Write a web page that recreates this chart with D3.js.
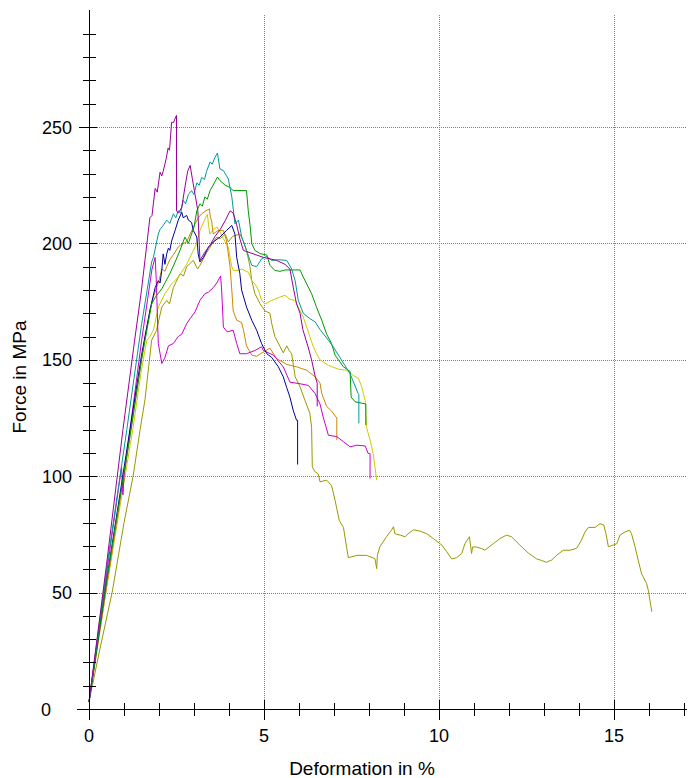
<!DOCTYPE html>
<html>
<head>
<meta charset="utf-8">
<script src="https://cdn.jsdelivr.net/npm/d3@7"></script>
<style>
  body { margin: 0; background: #fff; }
  svg text { font-family: "Liberation Sans", Arial, sans-serif; fill: #000; }
</style>
</head>
<body>
<div id="chart"></div>
<script>
// deformation (%) / force (MPa) pairs
const purple = [[0,3],[0.5,62],[0.97,120],[1.3,158],[1.5,180],[1.6,193],[1.74,211],[1.8,212],[1.89,223.6],[1.95,222],[2.03,230.6],[2.08,229],[2.12,231],[2.2,236],[2.26,241],[2.3,240],[2.36,252],[2.42,252],[2.48,254.5],[2.5,255],[2.5,214],[2.55,213],[2.65,215.5],[2.75,225],[2.82,231],[2.89,233.5],[2.95,228],[3.03,221],[3.11,214],[3.17,192.7],[3.3,196],[3.45,199],[3.6,203],[3.75,206],[3.9,210],[4.03,214],[4.12,213],[4.22,208],[4.31,202],[4.41,197],[4.6,196],[4.98,194],[5.36,192.7],[5.6,191],[5.74,189],[5.85,180],[5.93,174],[6.03,170],[6.11,163],[6.26,155.5],[6.36,150],[6.46,143],[6.52,140],[6.52,130]];
const teal = [[0,3],[0.5,60],[1.08,120],[1.5,165],[1.79,192],[1.84,194],[1.98,204],[2.03,206],[2.12,207.7],[2.22,210],[2.31,208.6],[2.41,212.7],[2.48,211],[2.55,214],[2.62,213],[2.69,218.5],[2.76,217],[2.84,221],[2.93,222.7],[3.0,221],[3.08,226],[3.15,225],[3.22,228.3],[3.3,227.5],[3.36,231],[3.46,235],[3.52,234],[3.6,237],[3.67,238.8],[3.74,232],[3.84,231.3],[3.93,229],[3.98,227.7],[4.08,220],[4.17,208.4],[4.27,210],[4.36,203],[4.5,197],[4.65,190.6],[4.79,190],[4.93,193.4],[5.08,194.4],[5.22,192.7],[5.41,193],[5.65,192.7],[5.79,189],[5.89,184],[5.98,175.5],[6.12,170],[6.31,167.7],[6.46,166.3],[6.6,163],[6.84,158.4],[6.98,155.5],[7.17,151],[7.46,144],[7.69,135.5],[7.71,135],[7.71,122.7]];
const green = [[0,3],[0.5,55],[1.2,120],[1.5,150],[1.79,174],[1.9,177],[2.08,180.5],[2.17,183],[2.31,187],[2.46,192],[2.6,197],[2.74,202.7],[2.84,200],[2.93,204],[3.0,207],[3.08,214],[3.17,217],[3.24,216],[3.31,220],[3.38,219],[3.46,222.7],[3.6,226.5],[3.67,228.5],[3.74,227],[3.89,225],[4.03,224],[4.12,222.7],[4.5,222.7],[4.55,214],[4.6,208],[4.65,200],[4.74,197],[4.89,195.6],[5.08,195],[5.17,190.6],[5.31,188.4],[5.46,188],[5.6,188.6],[6.03,188.6],[6.12,185.6],[6.22,182.6],[6.36,178.4],[6.5,172.6],[6.65,167],[6.79,161],[6.93,157],[7.03,152],[7.27,147],[7.46,145],[7.49,134],[7.6,132],[7.91,131],[7.91,122]];
const navy = [[0,3],[0.5,55],[1.17,120],[1.5,152],[1.75,172],[1.89,181],[1.98,184],[2.03,183],[2.08,188.4],[2.12,195.5],[2.17,191],[2.22,195.5],[2.27,198],[2.31,197],[2.36,201],[2.46,205.6],[2.55,210],[2.65,213.4],[2.69,211],[2.79,212],[2.84,210],[2.93,209],[2.98,205.6],[3.08,202.7],[3.12,195.5],[3.17,192],[3.27,194],[3.41,198.4],[3.55,200.6],[3.74,202.7],[3.93,205.6],[4.08,207.7],[4.17,204],[4.22,194],[4.31,187],[4.36,180],[4.5,172.7],[4.65,167],[4.79,162.7],[4.93,157],[5.08,152.6],[5.22,151],[5.41,147],[5.55,142.7],[5.65,138],[5.74,134],[5.84,128],[5.93,124],[5.96,124],[5.96,105]];
const orange = [[0,3],[0.5,52],[1.2,120],[1.6,160],[1.74,171],[1.84,177],[2.0,184],[2.08,189],[2.17,188],[2.22,190],[2.31,193],[2.45,196],[2.55,198.5],[2.69,200],[2.79,200.6],[2.89,204],[3.03,208.4],[3.12,211],[3.22,212.7],[3.34,214],[3.44,214.8],[3.47,211],[3.5,210],[3.55,204],[3.69,205.6],[3.84,205.6],[3.93,201],[4.03,190],[4.08,180],[4.12,171],[4.22,167],[4.36,166],[4.41,163],[4.5,156],[4.65,152],[4.79,151.5],[4.89,152.5],[5.17,155],[5.36,150.5],[5.65,148],[5.93,147],[6.22,145.5],[6.46,142.7],[6.6,140],[6.65,135.5],[6.79,130],[6.93,128],[7.08,125],[7.08,115.5]];
const yellow = [[0,3],[0.5,52],[1.25,120],[1.5,146],[1.65,158.4],[1.74,160],[1.84,162.7],[1.98,172.7],[2.17,178.4],[2.36,182.6],[2.55,185.5],[2.79,191],[2.95,196],[3.08,200],[3.17,205.6],[3.3,210],[3.38,212.5],[3.45,204],[3.55,206],[3.65,207],[3.74,205],[3.84,202],[3.98,198.4],[4.03,194],[4.08,190],[4.12,188.4],[4.27,188.4],[4.36,189],[4.55,187.6],[4.65,184],[4.74,182.6],[4.84,180],[4.93,175.5],[5.03,174],[5.22,175.5],[5.46,177],[5.6,177.7],[5.74,176],[5.89,175.5],[6.03,171],[6.12,168.4],[6.22,164],[6.31,160],[6.41,155.6],[6.5,152.6],[6.6,150],[6.84,147.6],[7.12,146],[7.36,145.5],[7.55,143.3],[7.7,142],[7.79,138.4],[7.89,132.6],[7.93,121],[8.03,115.5],[8.12,109.7],[8.17,104],[8.22,98.3]];
const olive = [[0,3],[0.3,25],[0.66,50],[1.0,80],[1.26,100],[1.46,120],[1.6,133],[1.79,158.4],[1.93,162.7],[2.08,172.7],[2.22,175.5],[2.3,174],[2.41,181],[2.6,187],[2.7,186],[2.79,190],[2.98,192.7],[3.1,189],[3.17,190.6],[3.36,196],[3.55,200.6],[3.65,202.7],[3.75,202],[3.89,204],[3.98,200.6],[4.1,203],[4.31,204],[4.41,201],[4.5,197],[4.6,190],[4.65,184],[4.74,178.4],[4.89,174],[5.03,171],[5.17,170],[5.22,165.6],[5.31,160],[5.46,155.6],[5.55,153],[5.65,156],[5.72,154],[5.79,152.6],[5.89,142.7],[6.03,138.4],[6.17,132.6],[6.31,127],[6.36,121],[6.38,104],[6.45,102],[6.55,101],[6.6,97.6],[6.79,98.3],[6.93,96],[7.03,89.7],[7.15,81],[7.27,78],[7.36,69.5],[7.41,65],[7.65,66],[7.93,66],[8.17,64.6],[8.22,60.3],[8.24,66],[8.31,69.7],[8.5,74],[8.64,76.8],[8.7,78.3],[8.74,75.3],[8.89,74.7],[9.03,74],[9.12,75.3],[9.27,77],[9.46,76.4],[9.65,75.3],[9.84,73.2],[10.08,70.4],[10.22,67.6],[10.36,64.5],[10.5,65],[10.65,66.8],[10.74,71],[10.87,74],[10.9,70.4],[10.93,66.8],[10.96,69.6],[11.07,69.6],[11.22,68.9],[11.31,68.2],[11.55,71],[11.74,73.2],[11.93,74.7],[12.07,74],[12.31,70.4],[12.55,67],[12.79,64.5],[12.93,63.8],[13.07,63],[13.22,64],[13.36,66],[13.55,68.2],[13.74,68.2],[13.93,69],[14.07,72.5],[14.17,76],[14.27,78],[14.46,78],[14.6,79.6],[14.71,79],[14.77,75.3],[14.84,69.7],[14.98,70.4],[15.08,71],[15.17,74.7],[15.31,76],[15.44,76.8],[15.5,75.3],[15.6,69.7],[15.69,64],[15.79,58],[15.93,54],[15.98,51],[16.08,41.8]];
const magenta = [[0,3],[0.5,58],[0.93,104],[0.97,92],[1.0,100],[1.5,158],[1.8,189],[1.89,194],[1.92,185],[1.98,157],[2.08,148.4],[2.17,151],[2.27,156],[2.41,157],[2.55,160],[2.65,161],[2.79,165.5],[2.89,167.7],[3.03,170.6],[3.17,175.5],[3.31,178.4],[3.41,179],[3.55,181],[3.65,183],[3.76,186],[3.79,180],[3.84,164],[3.95,162],[4.12,162.7],[4.22,157],[4.31,152.6],[4.5,152.6],[4.74,154],[4.93,155.6],[4.98,154],[5.27,152],[5.55,147],[5.74,140.4],[6.03,139.7],[6.27,139],[6.46,135.5],[6.6,131],[6.69,125.5],[6.84,117.6],[7.08,117],[7.27,114.8],[7.46,112.6],[7.65,113.3],[7.89,113],[7.98,109.7],[8.03,109.7],[8.03,99]];

const series = [olive, yellow, orange, magenta, navy, green, teal, purple];
const colors = ["#999900", "#cccc00", "#cc8800", "#cc00cc", "#000099", "#009900", "#009999", "#990099"];

const xLabels = [0, 5, 10, 15];
const yLabels = [0, 50, 100, 150, 200, 250];
const xMinor = [0,1,2,3,4,5,6,7,8,9,10,11,12,13,14,15,16,17];
const yMinor = [0,10,20,30,40,50,60,70,80,90,100,110,120,130,140,150,160,170,180,190,200,210,220,230,240,250,260,270,280,290];

const width = 688, height = 778;

const svg = d3.select("#chart").append("svg")
    .attr("width", width)
    .attr("height", height);

const x = d3.scaleLinear().domain([0, 15]).range([89, 614]);
const y = d3.scaleLinear().domain([0, 250]).range([709, 127]);
const xEnd = 687;
const yTop = y(298);

// dotted grid at the labelled values
const grid = svg.append("g")
    .attr("stroke", "#808080")
    .attr("stroke-dasharray", "1,1")
    .attr("shape-rendering", "crispEdges");
grid.selectAll(".gy")
    .data(yLabels.filter(d => d > 0))
    .enter().append("line")
    .attr("x1", x(0)).attr("x2", xEnd)
    .attr("y1", d => Math.round(y(d)) + 0.5)
    .attr("y2", d => Math.round(y(d)) + 0.5);
grid.selectAll(".gx")
    .data(xLabels.filter(d => d > 0))
    .enter().append("line")
    .attr("y1", yTop).attr("y2", y(0))
    .attr("x1", d => Math.round(x(d)) + 0.5)
    .attr("x2", d => Math.round(x(d)) + 0.5);

const line = d3.line()
    .x(d => x(d[0]))
    .y(d => y(d[1]));

svg.append("g")
    .selectAll("path")
    .data(series)
    .enter()
    .append("path")
    .attr("d", line)
    .attr("fill", "none")
    .attr("stroke", (d, i) => colors[i])
    .attr("stroke-width", 1)
    .attr("stroke-linejoin", "round");

// axes with ticks crossing the axis line
const axes = svg.append("g")
    .attr("stroke", "#000")
    .attr("shape-rendering", "crispEdges");

axes.append("line")
    .attr("x1", 77).attr("x2", xEnd)
    .attr("y1", y(0) + 0.5).attr("y2", y(0) + 0.5);
axes.append("line")
    .attr("x1", x(0) + 0.5).attr("x2", x(0) + 0.5)
    .attr("y1", 10).attr("y2", 719);

axes.selectAll(".tx")
    .data(xMinor)
    .enter().append("line")
    .attr("x1", d => Math.round(x(d)) + 0.5)
    .attr("x2", d => Math.round(x(d)) + 0.5)
    .attr("y1", d => xLabels.includes(d) ? 700 : 703)
    .attr("y2", d => xLabels.includes(d) ? 720 : 716);

axes.selectAll(".ty")
    .data(yMinor)
    .enter().append("line")
    .attr("y1", d => Math.round(y(d)) + 0.5)
    .attr("y2", d => Math.round(y(d)) + 0.5)
    .attr("x1", d => yLabels.includes(d) ? 79 : 83)
    .attr("x2", d => yLabels.includes(d) ? 97 : 96);

svg.selectAll(".lx")
    .data(xLabels)
    .enter().append("text")
    .attr("x", d => x(d))
    .attr("y", 742)
    .attr("text-anchor", "middle")
    .attr("font-size", 18)
    .text(d => d);

svg.selectAll(".ly")
    .data(yLabels)
    .enter().append("text")
    .attr("x", d => d === 0 ? 51 : 72)
    .attr("y", d => y(d) + 6.5)
    .attr("text-anchor", "end")
    .attr("font-size", 18)
    .text(d => d);

svg.append("text")
    .attr("x", 362)
    .attr("y", 775)
    .attr("text-anchor", "middle")
    .attr("font-size", 19)
    .text("Deformation in %");

svg.append("text")
    .attr("transform", "translate(26,377) rotate(-90)")
    .attr("text-anchor", "middle")
    .attr("font-size", 19)
    .text("Force in MPa");
</script>
</body>
</html>
